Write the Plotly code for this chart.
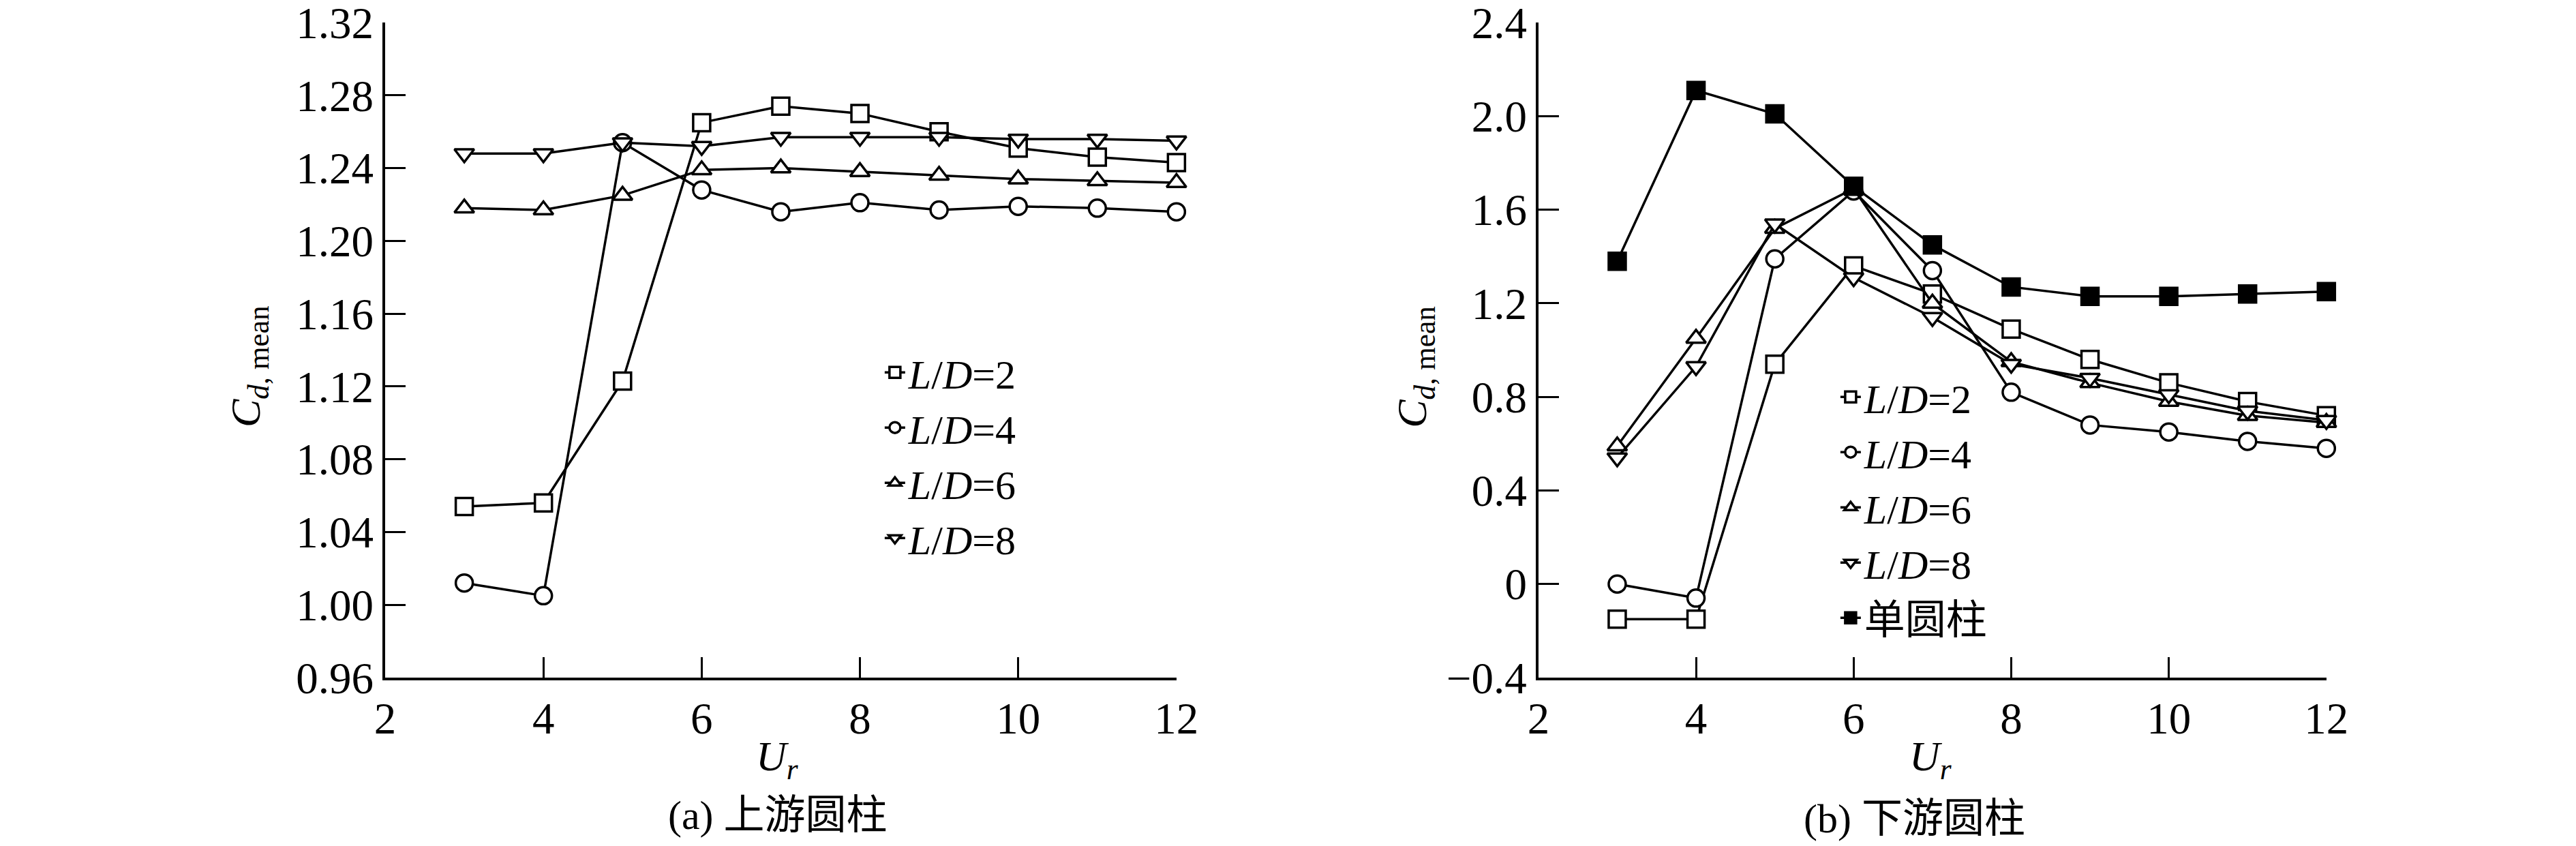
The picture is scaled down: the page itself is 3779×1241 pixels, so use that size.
import plotly.graph_objects as go

# reduced velocity
ur = [3, 4, 5, 6, 7, 8, 9, 10, 11, 12]

# (a) upstream cylinder, mean drag coefficient
up_ld2 = [1.054, 1.056, 1.123, 1.265, 1.274, 1.270, 1.260, 1.251, 1.246, 1.243]
up_ld4 = [1.012, 1.005, 1.254, 1.228, 1.216, 1.221, 1.217, 1.219, 1.218, 1.216]
up_ld6 = [1.218, 1.217, 1.225, 1.239, 1.240, 1.238, 1.236, 1.234, 1.233, 1.232]
up_ld8 = [1.248, 1.248, 1.254, 1.252, 1.257, 1.257, 1.257, 1.256, 1.256, 1.255]

# (b) downstream cylinder
dn_ld2 = [-0.15, -0.15, 0.94, 1.36, 1.24, 1.09, 0.96, 0.86, 0.78, 0.72]
dn_ld4 = [0.0, -0.06, 1.39, 1.68, 1.34, 0.82, 0.68, 0.65, 0.61, 0.58]
dn_ld6 = [0.59, 1.05, 1.52, 1.69, 1.20, 0.95, 0.86, 0.78, 0.72, 0.69]
dn_ld8 = [0.54, 0.93, 1.54, 1.31, 1.14, 0.94, 0.88, 0.81, 0.74, 0.70]
dn_single = [1.38, 2.11, 2.01, 1.70, 1.45, 1.27, 1.23, 1.23, 1.24, 1.25]

x_ticks = [2, 4, 6, 8, 10, 12]
up_yticks = [0.96, 1.00, 1.04, 1.08, 1.12, 1.16, 1.20, 1.24, 1.28, 1.32]
up_yticktext = ["0.96", "1.00", "1.04", "1.08", "1.12", "1.16", "1.20", "1.24", "1.28", "1.32"]
dn_yticks = [-0.4, 0, 0.4, 0.8, 1.2, 1.6, 2.0, 2.4]
dn_yticktext = ["\u22120.4", "0", "0.4", "0.8", "1.2", "1.6", "2.0", "2.4"]

names = ["<i>L</i>/<i>D</i>=2", "<i>L</i>/<i>D</i>=4", "<i>L</i>/<i>D</i>=6", "<i>L</i>/<i>D</i>=8"]
symbols = ["square", "circle", "triangle-up", "triangle-down"]

FONT = "Liberation Serif, Times New Roman, Noto Sans CJK SC"

fig = go.Figure()


def add_series(y, name, symbol, xaxis, yaxis, legend, fill="white"):
    fig.add_trace(go.Scatter(
        x=ur, y=y, name=name, mode="lines+markers",
        xaxis=xaxis, yaxis=yaxis, legend=legend,
        line=dict(color="black", width=3.5),
        marker=dict(symbol=symbol, size=25, color=fill,
                    line=dict(color="black", width=3.5)),
        cliponaxis=False,
    ))


for y, n, s in zip([up_ld2, up_ld4, up_ld6, up_ld8], names, symbols):
    add_series(y, n, s, "x", "y", "legend")

for y, n, s in zip([dn_ld2, dn_ld4, dn_ld6, dn_ld8], names, symbols):
    add_series(y, n, s, "x2", "y2", "legend2")
add_series(dn_single, "单圆柱", "square", "x2", "y2", "legend2", fill="black")

axis_common = dict(
    showline=True, linecolor="black", linewidth=4,
    ticks="inside", ticklen=30, tickwidth=3, tickcolor="black",
    showgrid=False, zeroline=False, mirror=False,
    ticklabeloverflow="allow", automargin=False,
    tickfont=dict(family=FONT, size=65, color="black"),
)

fig.update_layout(
    width=3779, height=1241,
    margin=dict(l=0, r=0, t=0, b=0, autoexpand=False),
    paper_bgcolor="white", plot_bgcolor="white",
    font=dict(family=FONT, color="black"),
    xaxis=dict(domain=[0.1474, 0.4546], range=[2, 12.0005], tickvals=x_ticks,
               anchor="y", **axis_common),
    yaxis=dict(domain=[0.2055, 0.9800], range=[0.96, 1.3201], tickvals=up_yticks,
               ticktext=up_yticktext, anchor="x", **axis_common),
    xaxis2=dict(domain=[0.5951, 0.9010], range=[2, 12.0005], tickvals=x_ticks,
                anchor="y2", **axis_common),
    yaxis2=dict(domain=[0.2055, 0.9800], range=[-0.4, 2.401], tickvals=dn_yticks,
                ticktext=dn_yticktext, anchor="x2", **axis_common),
    legend=dict(x=0.340, y=0.603, xanchor="left", yanchor="top",
                font=dict(family=FONT, size=60), bgcolor="rgba(0,0,0,0)"),
    legend2=dict(x=0.711, y=0.574, xanchor="left", yanchor="top",
                 font=dict(family=FONT, size=60), bgcolor="rgba(0,0,0,0)"),
    showlegend=True,
)

# axis titles and panel captions
ytitle = "<i>C</i><sub><i>d</i>, mean</sub>"
xtitle = "<i>U</i><sub><i>r</i></sub>"
for xp in [0.0945, 0.5472]:
    fig.add_annotation(text=ytitle, x=xp, y=0.573, xref="paper", yref="paper",
                       textangle=-90, xanchor="center", yanchor="middle", showarrow=False,
                       font=dict(family=FONT, size=62, color="black"))
for xp in [0.2998, 0.7475]:
    fig.add_annotation(text=xtitle, x=xp, y=0.1088, xref="paper", yref="paper",
                       xanchor="center", yanchor="middle", showarrow=False,
                       font=dict(family=FONT, size=62, color="black"))

fig.add_annotation(text="(a) 上游圆柱", x=0.2998, y=0.0427, xref="paper", yref="paper",
                   xanchor="center", yanchor="middle", showarrow=False,
                   font=dict(family=FONT, size=60, color="black"))
fig.add_annotation(text="(b) 下游圆柱", x=0.741, y=0.0387, xref="paper", yref="paper",
                   xanchor="center", yanchor="middle", showarrow=False,
                   font=dict(family=FONT, size=60, color="black"))

fig.write_html("out.html")
